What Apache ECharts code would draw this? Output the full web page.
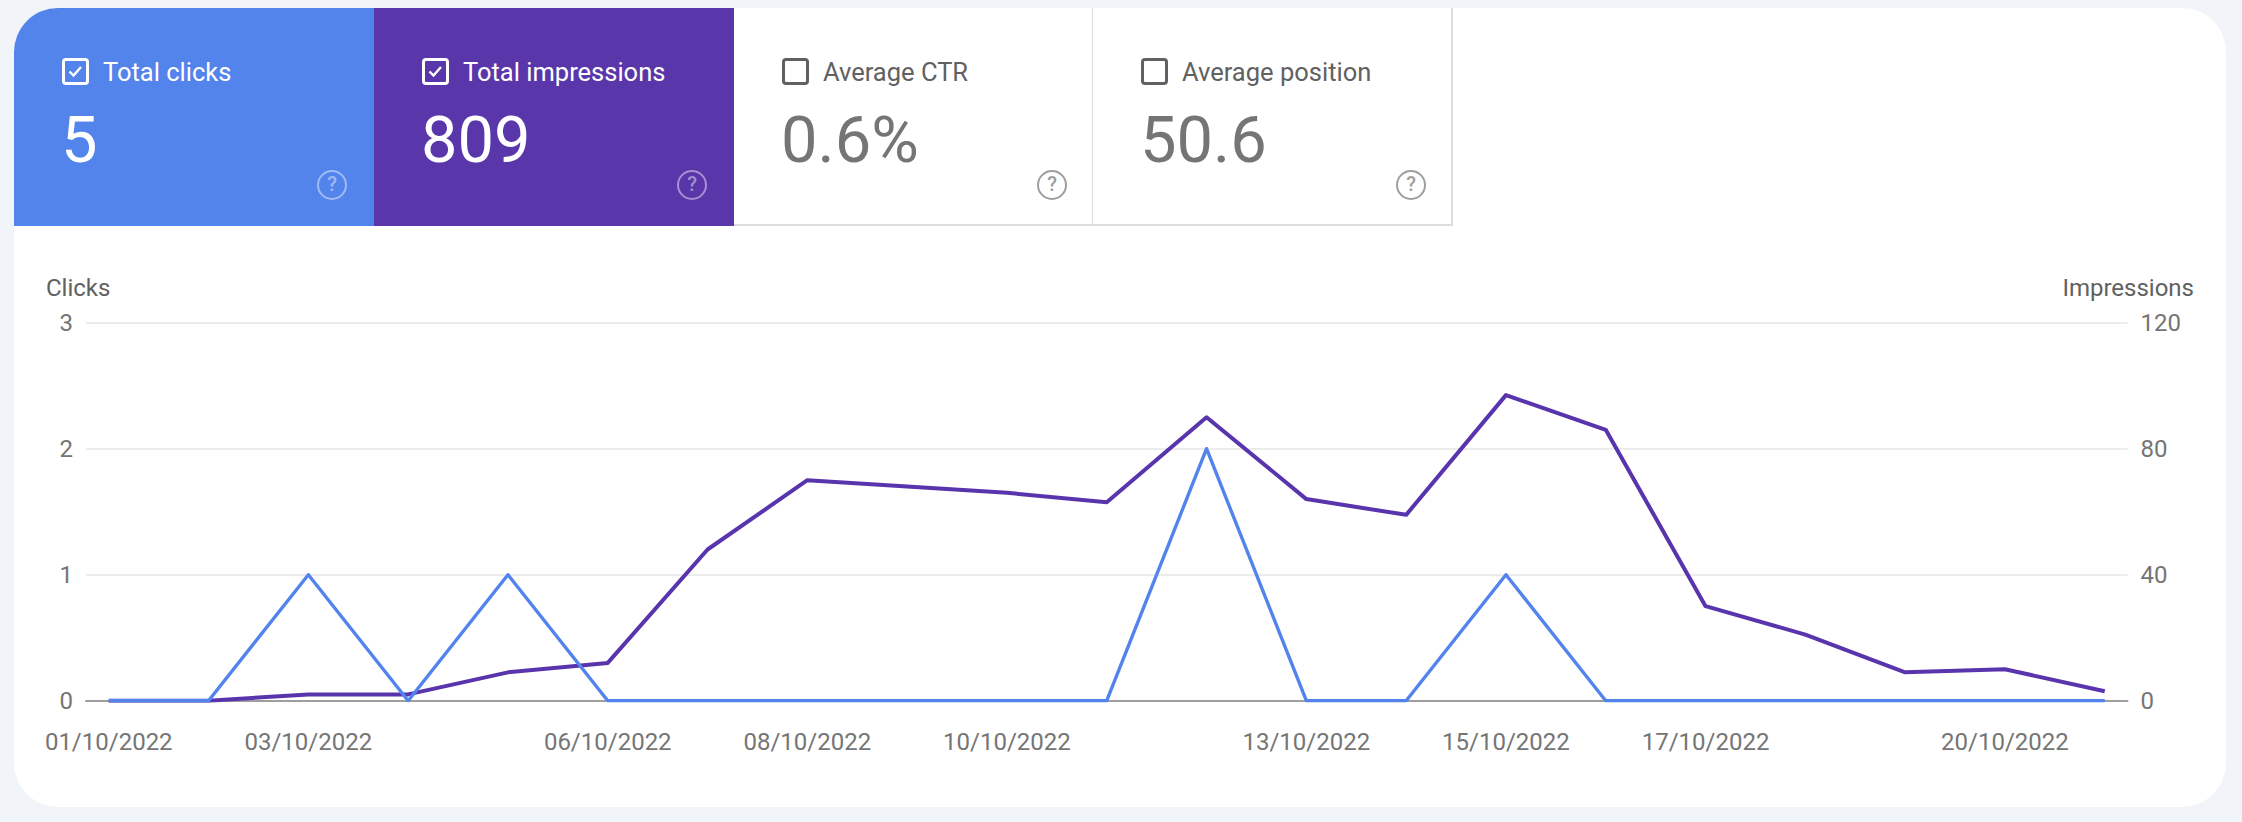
<!DOCTYPE html>
<html>
<head>
<meta charset="utf-8">
<title>Performance</title>
<script src="https://cdn.jsdelivr.net/npm/echarts@6/dist/echarts.min.js"></script>
<style>
  html, body { margin: 0; padding: 0; }
  body {
    width: 2242px; height: 822px; background: #f1f4f9;
    font-family: Roboto, "Noto Sans", sans-serif; position: relative; overflow: hidden;
  }
  .panel {
    position: absolute; left: 14px; top: 8px; width: 2212px; height: 799px;
    background: #fff; border-radius: 44px; overflow: hidden;
  }
  #chart { position: absolute; left: 0; top: 0; width: 2242px; height: 822px; }
  .card {
    position: absolute; top: 8px; height: 218px; width: 360px; box-sizing: border-box;
    color: #fff;
  }
  .card.off { color: #616161; border-right: 2px solid #dcdcdc; border-bottom: 2px solid #dcdcdc; background: #fff; }
  .card .box {
    position: absolute; left: 48px; top: 50px; width: 27px; height: 27px; box-sizing: border-box;
    border: 3px solid currentColor; border-radius: 4px;
  }
  .card .box svg { position: absolute; left: 1px; top: 1px; }
  .card .label { position: absolute; left: 89px; top: 48px; font-size: 25.5px; line-height: 32px; }
  .card .num { position: absolute; left: 47px; top: 93px; font-size: 65px; line-height: 78px; }
  .card.off .num { color: #757575; }
  .card .help {
    position: absolute; left: 303px; top: 162px; width: 30px; height: 30px; box-sizing: border-box;
    border: 2.5px solid rgba(255,255,255,0.45); border-radius: 50%;
    color: rgba(255,255,255,0.45); font-size: 20px; font-weight: 500; line-height: 25px; text-align: center;
  }
  .card.off .help { border-color: #9e9e9e; color: #9e9e9e; }
</style>
</head>
<body>
<div class="panel"></div>
<div id="chart"></div>
<div id="cards"></div>
<script>
// Ngày và số liệu (01/10/2022 - 21/10/2022)
const dates = ['01/10/2022','02/10/2022','03/10/2022','04/10/2022','05/10/2022','06/10/2022','07/10/2022',
  '08/10/2022','09/10/2022','10/10/2022','11/10/2022','12/10/2022','13/10/2022','14/10/2022',
  '15/10/2022','16/10/2022','17/10/2022','18/10/2022','19/10/2022','20/10/2022','21/10/2022'];
const clicks = [0,0,1,0,1,0,0,0,0,0,0,2,0,0,1,0,0,0,0,0,0];
const impressions = [0,0,2,2,9,12,48,70,68,66,63,90,64,59,97,86,30,21,9,10,3];
const labelIdx = [0,2,5,7,9,12,14,16,19];
const clickTicks = [0,1,2,3];
const impressionTicks = [0,40,80,120];

const cards = [
  { title: 'Total clicks', value: '5', bg: '#5384ec', on: true },
  { title: 'Total impressions', value: '809', bg: '#5937aa', on: true },
  { title: 'Average CTR', value: '0.6%', on: false },
  { title: 'Average position', value: '50.6', on: false }
];
const cardLeft = [14, 374, 734, 1093];

// Vẽ các thẻ tổng quan
const cardsEl = document.getElementById('cards');
cards.forEach((c, i) => {
  const el = document.createElement('div');
  el.className = 'card' + (c.on ? '' : ' off');
  el.style.left = cardLeft[i] + 'px';
  if (c.on) el.style.background = c.bg;
  if (i === 0) el.style.borderTopLeftRadius = '44px';
  const tick = c.on
    ? '<svg width="19" height="19" viewBox="0 0 19 19"><polyline points="3.5,9.5 7.5,13.5 15,5" fill="none" stroke="#fff" stroke-width="2.4"/></svg>'
    : '';
  el.innerHTML = `<div class="box">${tick}</div><div class="label">${c.title}</div>` +
    `<div class="num">${c.value}</div><div class="help">?</div>`;
  cardsEl.appendChild(el);
});

const chart = echarts.init(document.getElementById('chart'), null, { renderer: 'svg' });
const labelColor = '#757575';

chart.setOption({
  animation: false,
  grid: { left: 86, right: 114.5, top: 322.7, bottom: 121.3 },
  graphic: [
    { type: 'text', left: 46, top: 276, style: { text: 'Clicks', fontSize: 24, fontFamily: 'Roboto', fill: '#616161' } },
    { type: 'text', right: 2242 - 2194, top: 276, style: { text: 'Impressions', fontSize: 24, fontFamily: 'Roboto', fill: '#616161' } }
  ],
  xAxis: {
    type: 'value',
    min: -0.228,
    max: 20.228,
    splitLine: { show: false },
    axisTick: { show: false },
    axisLine: { show: true, lineStyle: { color: '#9e9e9e', width: 2 } },
    axisLabel: {
      customValues: labelIdx,
      formatter: v => dates[v],
      color: labelColor, fontSize: 24, fontFamily: 'Roboto', margin: 29
    }
  },
  yAxis: [
    {
      type: 'value', min: clickTicks[0], max: clickTicks[clickTicks.length - 1], interval: 1,
      axisLine: { show: false }, axisTick: { show: false },
      splitLine: { lineStyle: { color: '#ececec', width: 2 } },
      axisLabel: { color: labelColor, fontSize: 24, fontFamily: 'Roboto', margin: 13 }
    },
    {
      type: 'value', min: impressionTicks[0], max: impressionTicks[impressionTicks.length - 1], interval: 40,
      axisLine: { show: false }, axisTick: { show: false }, splitLine: { show: false },
      axisLabel: { color: labelColor, fontSize: 24, fontFamily: 'Roboto', margin: 13 }
    }
  ],
  series: [
    {
      name: 'Impressions', type: 'line', yAxisIndex: 1, z: 2,
      data: impressions.map((v, i) => [i, v]),
      symbol: 'none', lineStyle: { color: '#5935ad', width: 4, join: 'round' }
    },
    {
      name: 'Clicks', type: 'line', yAxisIndex: 0, z: 3,
      data: clicks.map((v, i) => [i, v]),
      symbol: 'none', lineStyle: { color: '#5383ec', width: 3.4, join: 'round' }
    }
  ]
});
</script>
</body>
</html>
